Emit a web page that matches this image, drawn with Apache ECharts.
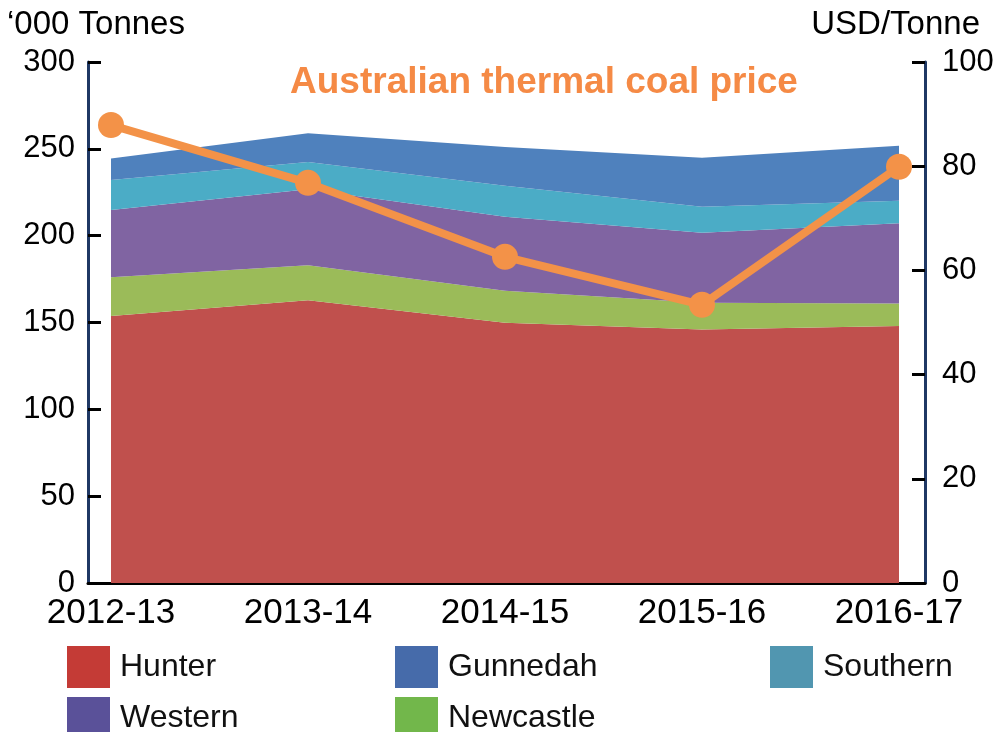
<!DOCTYPE html>
<html>
<head>
<meta charset="utf-8">
<script src="https://cdn.jsdelivr.net/npm/echarts@6/dist/echarts.min.js"></script>
<style>
  html, body { margin: 0; padding: 0; background: #fff; }
  #chart { width: 997px; height: 732px; }
</style>
</head>
<body>
<div id="chart"></div>
<script>
const years = ['2012-13', '2013-14', '2014-15', '2015-16', '2016-17'];

// '000 tonnes, stacked bottom to top
const hunter = [153.7, 162.8, 149.9, 146.0, 148.0];
const newcastle = [22.3, 20.1, 18.4, 15.4, 13.0];
const western = [38.8, 43.8, 42.6, 40.3, 46.1];
const southern = [17.2, 15.7, 17.8, 15.0, 13.0];
const gunnedah = [12.5, 16.6, 22.3, 28.2, 31.7];

// USD/tonne
const coalPrice = [87.9, 76.8, 62.6, 53.4, 79.9];

const FONT = 'Arial, "Liberation Sans", sans-serif';
const chart = echarts.init(document.getElementById('chart'));

const areaSeries = (name, data, color) => ({
    name: name,
    type: 'line',
    stack: 'coal',
    xAxisIndex: 0,
    yAxisIndex: 0,
    data: data,
    showSymbol: false,
    lineStyle: { width: 0 },
    areaStyle: { color: color, opacity: 1 },
    itemStyle: { color: color },
    emphasis: { disabled: true },
    z: 2
});

// one legend per entry so the 3 + 2 grid lines up like the original
const legendItem = (name, color, left, top) => ({
    left: left,
    top: top,
    itemWidth: 43,
    itemHeight: 42,
    icon: 'rect',
    selectedMode: false,
    textStyle: { fontSize: 32, color: '#111', fontFamily: FONT, padding: [0, 0, 0, 5] },
    data: [{ name: name, itemStyle: { color: color } }]
});

const option = {
    animation: false,
    title: [
        { text: 'Australian thermal coal price', left: 539, top: 59, textAlign: 'center',
          textStyle: { color: '#F58A45', fontSize: 37, fontWeight: 'bold', fontFamily: FONT } },
        { text: '\u2018000 Tonnes', left: 2, top: 3,
          textStyle: { color: '#000', fontSize: 33, fontWeight: 'normal', fontFamily: FONT } },
        { text: 'USD/Tonne', right: 12, top: 3,
          textStyle: { color: '#000', fontSize: 33, fontWeight: 'normal', fontFamily: FONT } }
    ],
    legend: [
        legendItem('Hunter', '#C43B36', 62, 641),
        legendItem('Gunnedah', '#466BAA', 390, 641),
        legendItem('Southern', '#5196B0', 765, 641),
        legendItem('Western', '#5A5199', 62, 692),
        legendItem('Newcastle', '#72B74B', 390, 692)
    ],
    grid: [
        { left: 111, right: 98, top: 62, bottom: 149 },
        { left: 88, right: 72, top: 62, bottom: 149 }
    ],
    xAxis: [
        {
            type: 'category', gridIndex: 0, data: years, boundaryGap: false,
            axisLine: { show: false }, axisTick: { show: false },
            axisLabel: { fontSize: 35, color: '#000', fontFamily: FONT, margin: 13 }
        },
        {
            type: 'value', gridIndex: 1, min: 0, max: 1,
            axisLine: { show: true, lineStyle: { color: '#000', width: 3 } },
            axisTick: { show: false }, axisLabel: { show: false }, splitLine: { show: false }
        }
    ],
    yAxis: [
        { type: 'value', gridIndex: 0, min: 0, max: 300, interval: 50, show: false },
        { type: 'value', gridIndex: 0, min: 0, max: 100, interval: 20, show: false, position: 'right' },
        {
            type: 'value', gridIndex: 1, position: 'left', min: 0, max: 300, interval: 50,
            axisLine: { show: true, lineStyle: { color: '#1F3864', width: 3 } },
            axisTick: { show: true, inside: true, length: 13, lineStyle: { color: '#000', width: 3 } },
            axisLabel: { fontSize: 31, color: '#000', fontFamily: FONT, margin: 13 },
            splitLine: { show: false }
        },
        {
            type: 'value', gridIndex: 1, position: 'right', min: 0, max: 100, interval: 20,
            axisLine: { show: true, lineStyle: { color: '#1F3864', width: 3 } },
            axisTick: { show: true, inside: true, length: 13, lineStyle: { color: '#000', width: 3 } },
            axisLabel: { fontSize: 31, color: '#000', fontFamily: FONT, margin: 17 },
            splitLine: { show: false }
        }
    ],
    series: [
        areaSeries('Hunter', hunter, '#C0504D'),
        areaSeries('Newcastle', newcastle, '#9BBB59'),
        areaSeries('Western', western, '#8064A2'),
        areaSeries('Southern', southern, '#4BACC6'),
        areaSeries('Gunnedah', gunnedah, '#4F81BD'),
        {
            name: 'Australian thermal coal price',
            type: 'line',
            xAxisIndex: 0,
            yAxisIndex: 1,
            data: coalPrice,
            symbol: 'circle',
            symbolSize: 26,
            lineStyle: { color: '#F39248', width: 8 },
            itemStyle: { color: '#F39248' },
            z: 5
        }
    ]
};

chart.setOption(option);
</script>
</body>
</html>
